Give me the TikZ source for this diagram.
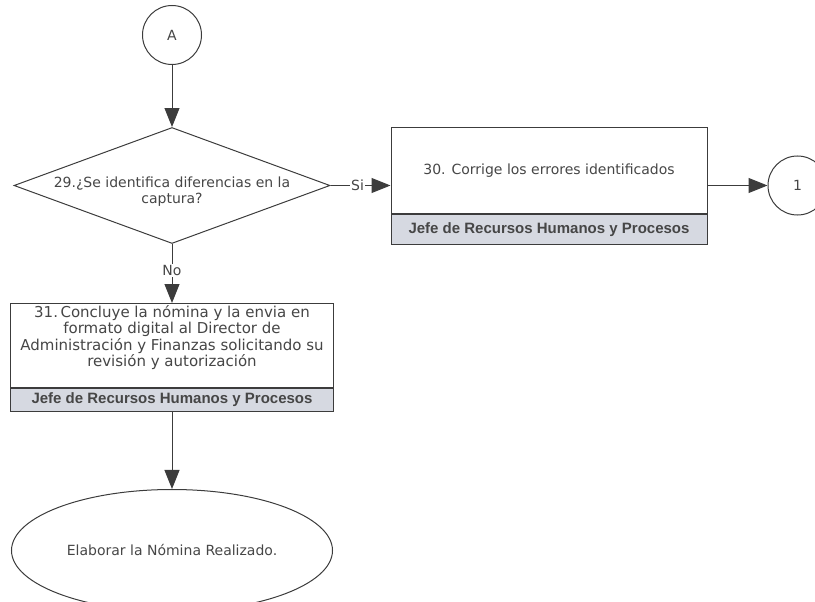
\documentclass[tikz,border=0pt]{standalone}
\usepackage{fontspec}
\setmainfont{DejaVu Sans}
\newfontfamily\ownerfont{Liberation Sans}
\usetikzlibrary{arrows.meta,positioning,shapes.geometric}
\definecolor{linegray}{RGB}{60,60,60}
\definecolor{textgray}{RGB}{70,70,70}
\definecolor{ownerfill}{RGB}{214,217,225}

\begin{document}
\begin{tikzpicture}[x=1pt,y=-1pt,line width=1pt,draw=linegray,
                    >={Triangle[length=19pt,width=15pt]},
                    every node/.style={text=textgray,
                    font=\fontsize{14}{16.5}\selectfont}]
  \tikzstyle{connector}=[circle,draw,minimum size=59pt,inner sep=0pt]
  \tikzstyle{decision}=[diamond,draw,aspect=2.72,minimum width=316pt,
                        minimum height=116pt,inner sep=0pt]
  \tikzstyle{task}=[rectangle,draw,fill=white,align=center,inner sep=2pt]
  \tikzstyle{owner}=[rectangle,draw,fill=ownerfill,inner sep=0pt,
                     font=\ownerfont\bfseries\fontsize{15}{16}\selectfont]
  \tikzstyle{finish}=[ellipse,draw,minimum width=321pt,minimum height=122pt]
  \tikzstyle{flowlabel}=[fill=white,inner sep=1pt]

  \useasboundingbox (0,0) rectangle (815,602);

  \node[connector]  (A) at (172,35)            {A};
  \node[decision]   (Q29) [below=62pt of A,
    label={[align=center,text=textgray,yshift=-6pt]center:29.¿Se identifica diferencias en la\\captura?}] {};
  \node[task, minimum width=316pt, minimum height=86pt]
                    (T30) [right=60pt of Q29, yshift=15pt]
                    {30. Corrige los errores identificados};
  \node[owner, minimum width=316pt, minimum height=30pt]
                    (O30) [below=0pt of T30]  {Jefe de Recursos Humanos y Procesos};
  \coordinate       (S30) at (Q29.east -| T30.east);
  \node[connector]  (C1) [right=60pt of S30]   {1};
  \node[task, minimum width=323pt, minimum height=80pt,
        font=\fontsize{15}{16.5}\selectfont]
                    (T31) [below=59pt of Q29]
                    {31.\,Concluye la nómina y la envia en\\
                     formato digital al Director de\\
                     Administración y Finanzas solicitando su\\
                     revisión y autorización\\[2pt]};
  \node[owner, minimum width=323pt, minimum height=23pt]
                    (O31) [below=0pt of T31]  {Jefe de Recursos Humanos y Procesos};
  \node[finish]     (F) [below=77pt of O31]   {Elaborar la Nómina Realizado.};

  \path[->] (A)        edge (Q29)
            (Q29.east) edge node[flowlabel, pos=0.45] {Si} (Q29.east -| T30.west)
            (S30)      edge (C1)
            (Q29)      edge node[flowlabel, pos=0.45] {No} (T31)
            (O31)      edge (F);
\end{tikzpicture}
\end{document}
